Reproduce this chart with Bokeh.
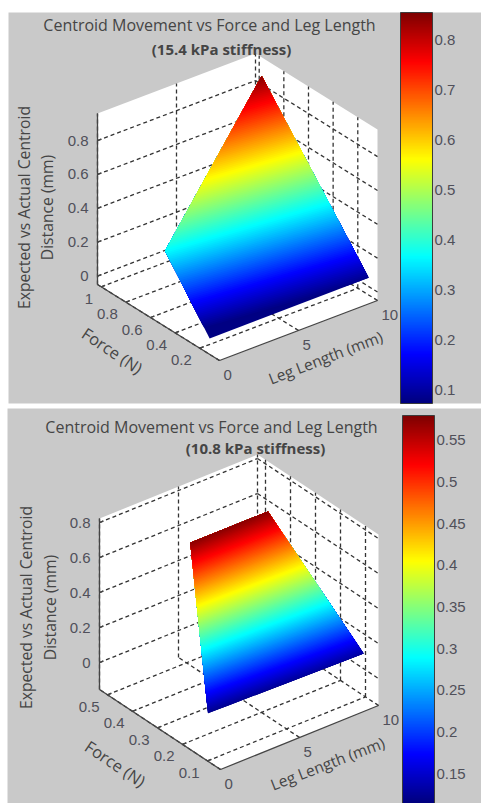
import numpy as np
from bokeh.embed import file_html
from bokeh.resources import INLINE
from bokeh.plotting import figure
from bokeh.models import ColorBar, LinearColorMapper, FixedTicker, Range1d
from bokeh.core.properties import value

# ---- data ----
leg_ticks = [0, 5, 10]
force_ticks_a = [1, 0.8, 0.6, 0.4, 0.2]
force_ticks_b = [0.5, 0.4, 0.3, 0.2, 0.1]
z_ticks = [0, 0.2, 0.4, 0.6, 0.8]
cbar_ticks_a = [0.1, 0.2, 0.3, 0.4, 0.5, 0.6, 0.7, 0.8]
cbar_ticks_b = [0.15, 0.2, 0.25, 0.3, 0.35, 0.4, 0.45, 0.5, 0.55]
# surface corners, in order round the edge
leg_a = [0.0, 9.6, 10.0, 0.3]
force_a = [0.12, 0.06, 0.98, 0.52]
dist_a = [0.043, 0.09, 0.85, 0.37]
leg_b = [0.0, 9.55, 9.6, 4.7]
force_b = [0.098, 0.079, 0.465, 0.466]
dist_b = [0.12, 0.13, 0.575, 0.575]
title_a = ["Centroid Movement vs Force and Leg Length", "(15.4 kPa stiffness)"]
title_b = ["Centroid Movement vs Force and Leg Length", "(10.8 kPa stiffness)"]
ylabel = ["Expected vs Actual Centroid", "Distance (mm)"]
force_label = "Force (N)"
leg_label = "Leg Length (mm)"

SANS = "Liberation Sans"
TITLE = "Open Sans"
TXT = "#454545"
LBL = "#50505a"
GRAY = "#c9c9c9"


def jet(t):
    t = float(np.clip(t, 0, 1))
    r = np.clip(min(4 * t - 1.5, -4 * t + 4.5), 0, 1)
    g = np.clip(min(4 * t - 0.5, -4 * t + 3.5), 0, 1)
    b = np.clip(min(4 * t + 0.5, -4 * t + 2.5), 0, 1)
    return "#%02x%02x%02x" % (int(r * 255), int(g * 255), int(b * 255))


PALETTE = [jet(i / 255) for i in range(256)]

p = figure(width=481, height=803, x_range=Range1d(0, 481), y_range=Range1d(803, 0),
           output_backend="svg", toolbar_location=None, min_border=0,
           outline_line_color=None, background_fill_color="white", border_fill_color="white")
p.axis.visible = False
p.grid.visible = False


def txt(x, y, s, size, font=SANS, color=LBL, align="center", angle=0, style="normal"):
    p.text([x], [y], text=[s], text_font=value(font), text_font_size=f"{size}px",
           text_color=color, text_align=align, text_baseline="middle", angle=np.radians(angle),
           text_font_style=style)


def panel(spec):
    L, F, Z = spec["leg"], spec["force"], spec["dist"]
    front, legv, forcev = np.array(spec["front"], float), np.array(spec["legv"], float), np.array(spec["forcev"], float)
    fmin, fmax, zmin, zmax, zpx = spec["fmin"], spec["fmax"], spec["zmin"], spec["zmax"], spec["zpx"]

    def proj(leg, force, z):
        q = front + legv * (leg / 10) + forcev * ((force - fmin) / (fmax - fmin))
        return q[0], q[1] - (z - zmin) * zpx

    x0, x1, y0, y1 = spec["bg"]
    p.quad(left=[x0], right=[x1], top=[y0], bottom=[y1], fill_color=GRAY, line_color=None)

    # walls and floor
    box = [(0, fmin, zmin), (10, fmin, zmin), (10, fmin, zmax), (10, fmax, zmax), (0, fmax, zmax), (0, fmax, zmin)]
    bx, by = zip(*[proj(*v) for v in box])
    p.patch(list(bx), list(by), fill_color="white", line_color=None)

    # dashed grid
    gx, gy = [], []

    def seg(a, b):
        pa, pb = proj(*a), proj(*b)
        gx.append([pa[0], pb[0]])
        gy.append([pa[1], pb[1]])

    for z in spec["zt"]:
        seg((0, fmax, z), (10, fmax, z))
        seg((10, fmax, z), (10, fmin, z))
    for l in spec["lt"]:
        seg((l, fmin, zmin), (l, fmax, zmin))
        seg((l, fmax, zmin), (l, fmax, zmax))
    for f in spec["ft"]:
        seg((0, f, zmin), (10, f, zmin))
        seg((10, f, zmin), (10, f, zmax))
    p.multi_line(gx, gy, line_color="#333333", line_width=1.3, line_dash="4 3")

    # surface, painted from the lowest value up
    low, high = spec["clim"]
    edges = np.linspace(low, high, 129)
    edges[0] = -9
    pts = [proj(l, f, z) + (z,) for l, f, z in zip(L, F, Z)]
    xs, ys, cols = [], [], []
    for i in range(128):
        bound = edges[i]
        out = []
        for a, b in zip(pts, pts[1:] + pts[:1]):
            ina, inb = a[2] >= bound, b[2] >= bound
            if ina:
                out.append(a)
            if ina != inb:
                t = (bound - a[2]) / (b[2] - a[2])
                out.append(tuple(a[k] + t * (b[k] - a[k]) for k in range(3)))
        if out:
            xs.append([q[0] for q in out])
            ys.append([q[1] for q in out])
            cols.append(jet((i + 0.5) / 128))
    p.patches(xs, ys, fill_color=cols, line_color=None)

    # axis lines and ticks
    ax = [((0, fmax, zmin), (0, fmax, zmax)), ((0, fmax, zmin), (0, fmin, zmin)), ((0, fmin, zmin), (10, fmin, zmin))]
    ax += [((0, fmax, z), (0.25, fmax, z)) for z in spec["zt"]]
    ax += [((0, f, zmin), (0.25, f, zmin)) for f in spec["ft"]]
    ax += [((l, fmin, zmin), (l, fmin + 0.02 * (fmax - fmin), zmin)) for l in spec["lt"]]
    p.multi_line([[proj(*a)[0], proj(*b)[0]] for a, b in ax], [[proj(*a)[1], proj(*b)[1]] for a, b in ax],
                 line_color="#454545", line_width=1.3)

    # tick labels
    for z in spec["zt"]:
        q = proj(0, fmax, z)
        txt(q[0] - 9, q[1], f"{z:g}", 15, align="right")
    for f in spec["ft"]:
        q = proj(0, f, zmin)
        txt(q[0] - 8, q[1] + 12, f"{f:g}", 15, align="right")
    for l in spec["lt"]:
        q = proj(l, fmin, zmin)
        txt(q[0] + 4, q[1] + 14, f"{l:g}", 15, align="left")

    # titles and axis names
    for (tx, ty), s, st in zip(spec["title_xy"], spec["title"], (0, 1)):
        txt(tx, ty, s, spec["title_size"][st], font=TITLE, color=TXT, style="bold" if st else "normal")
    for tx, s in zip(spec["yl_x"], ylabel):
        txt(tx, spec["yl_y"], s, 15.7, font=TITLE, color=TXT, angle=90)
    txt(*spec["force_xy"], force_label, 16.5, font=TITLE, color=TXT, angle=-34)
    txt(*spec["leg_xy"], leg_label, 15.5, font=TITLE, color=TXT, angle=21)

    # colour bar
    cx0, cx1, cy0, cy1 = spec["bar"]
    mapper = LinearColorMapper(palette=PALETTE, low=spec["bar_low"], high=spec["bar_high"])
    cb = ColorBar(color_mapper=mapper, ticker=FixedTicker(ticks=spec["ct"]), width=cx1 - cx0, height=cy1 - cy0,
                  location=(cx0, 803 - cy1), padding=0, margin=0, background_fill_color=None,
                  bar_line_color="#3c3c3c", bar_line_width=1, major_tick_line_color=None, minor_tick_line_color=None,
                  label_standoff=2, major_label_text_font=SANS, major_label_text_font_size="15px",
                  major_label_text_color=LBL, major_label_text_align="left", major_label_text_baseline="middle")
    p.add_layout(cb, "center")
    scale = (cy1 - cy0) / (spec["bar_high"] - spec["bar_low"])
    tx0, tx1, ty = [], [], []
    for c in spec["ct"]:
        yy = cy1 - (c - spec["bar_low"]) * scale
        tx0 += [cx0, cx1]
        tx1 += [cx0 + 4, cx1 - 4]
        ty += [yy, yy]
    p.segment(tx0, ty, tx1, ty, line_color="#222222", line_width=1)


panel(dict(leg=leg_a, force=force_a, dist=dist_a, front=(219, 360), legv=(158, -60), forcev=(-122, -76),
           fmin=0.04, fmax=1.03, zmin=-0.05, zmax=0.96, zpx=169.3, zt=z_ticks, lt=leg_ticks, ft=force_ticks_a,
           clim=(0.078, 0.856), bg=(8, 481, 12, 403), title=title_a, title_xy=[(209, 24), (221, 48)],
           title_size=(16, 15), yl_x=(23, 46), yl_y=207, force_xy=(112, 350), leg_xy=(325, 357),
           bar=(400, 432, 12, 403), bar_low=0.072, bar_high=0.856, ct=cbar_ticks_a))
panel(dict(leg=leg_b, force=force_b, dist=dist_b, front=(220, 769), legv=(158, -64), forcev=(-121, -80),
           fmin=0.048, fmax=0.532, zmin=-0.154, zmax=0.823, zpx=175, zt=z_ticks, lt=leg_ticks, ft=force_ticks_b,
           clim=(0.114, 0.58), bg=(7, 481, 408, 803), title=title_b, title_xy=[(211, 426), (255, 447)],
           title_size=(16, 15), yl_x=(25, 49), yl_y=607, force_xy=(115, 763), leg_xy=(327, 763),
           bar=(402, 434, 415, 803), bar_low=0.114, bar_high=0.58, ct=cbar_ticks_b))

open("out.html", "w").write(file_html(p, INLINE))
